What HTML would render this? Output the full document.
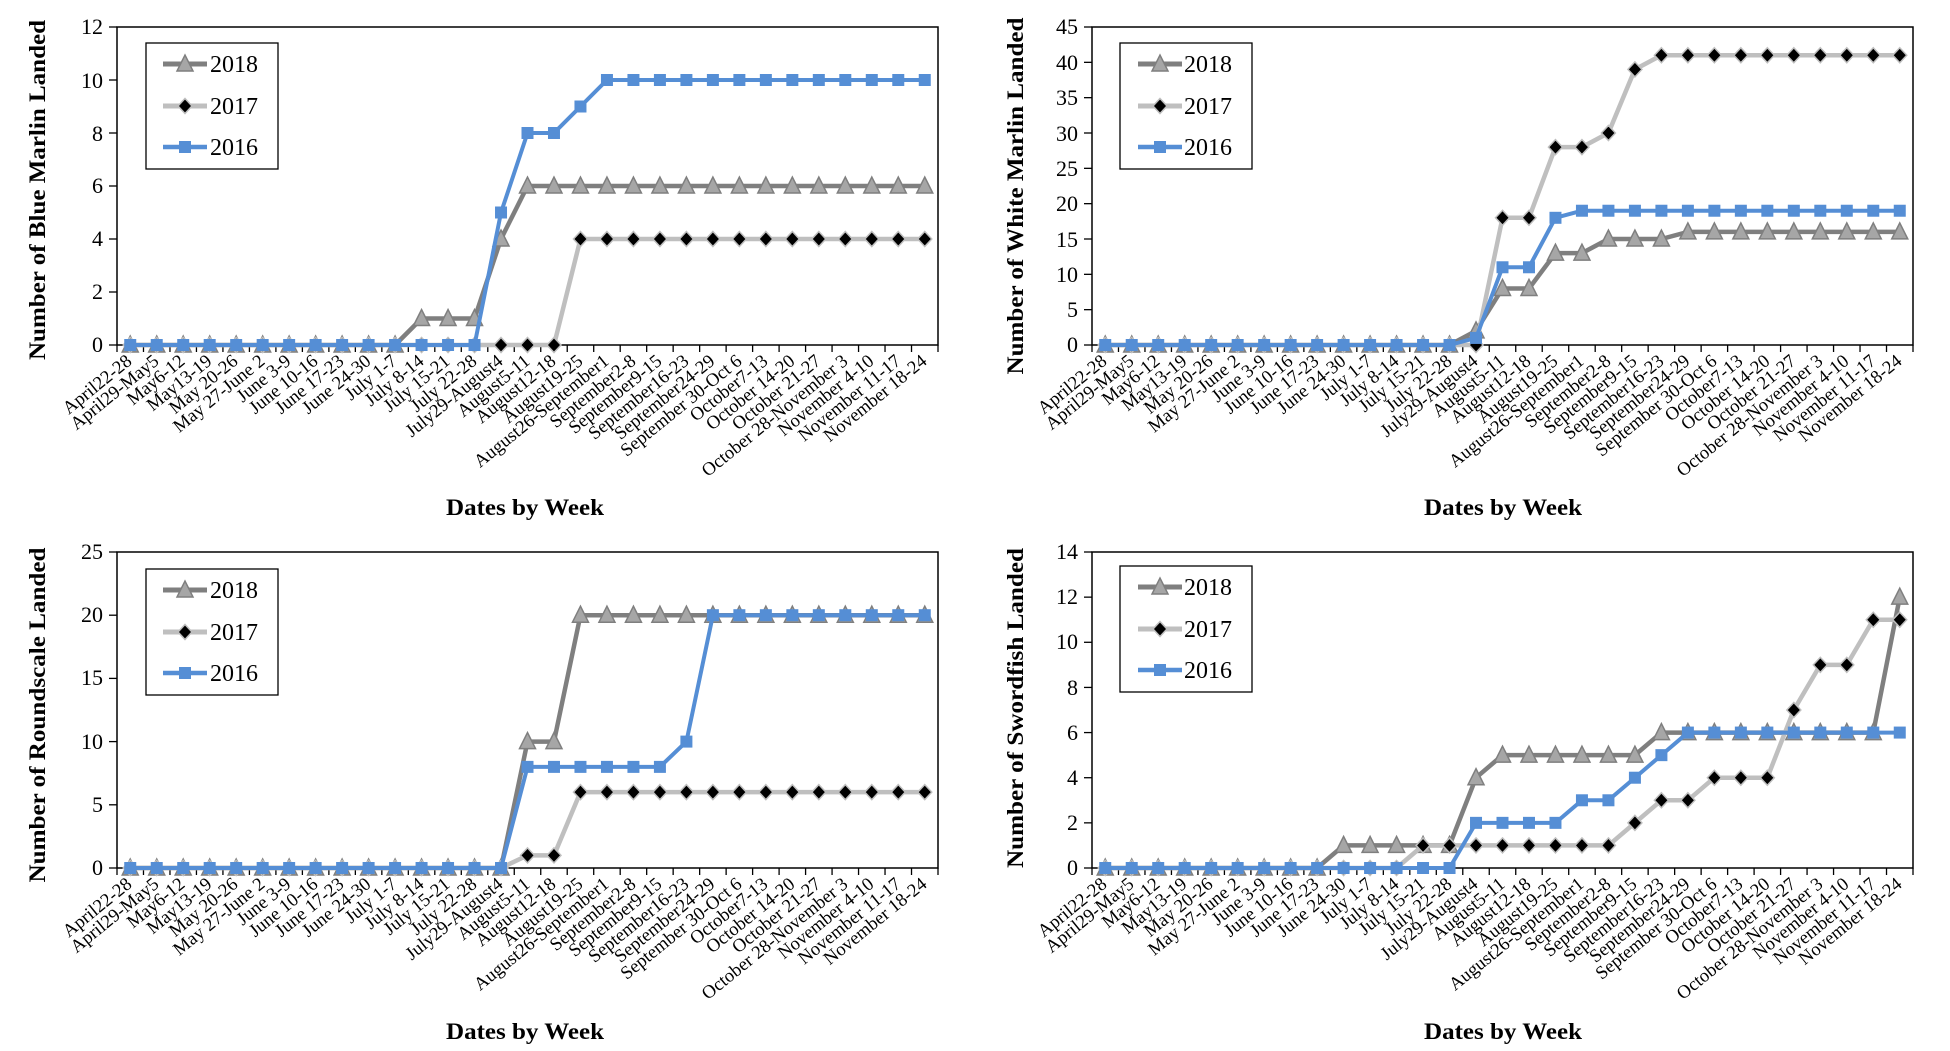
<!DOCTYPE html>
<html><head><meta charset="utf-8"><style>
html,body{margin:0;padding:0;background:#fff;}
svg{display:block;font-family:"Liberation Serif",serif;}
.yt{font-size:22px;text-anchor:end;}
.xl{font-size:18.6px;text-anchor:end;}
.lg{font-size:24px;}
.tt{font-size:23px;font-weight:bold;text-anchor:middle;}
</style></head><body>
<svg id="s" width="1950" height="1051" viewBox="0 0 1950 1051" xmlns="http://www.w3.org/2000/svg">
<g id="plots"></g>
<!-- Chart 1 -->
<g transform="translate(117,345)">
<text class="yt" x="-14" y="7">0</text><text class="yt" x="-14" y="-46">2</text><text class="yt" x="-14" y="-99">4</text><text class="yt" x="-14" y="-152">6</text><text class="yt" x="-14" y="-204">8</text><text class="yt" x="-14" y="-257">10</text><text class="yt" x="-14" y="-311">12</text>
</g>
<text class="tt" transform="translate(45,190) rotate(-90)" textLength="340" lengthAdjust="spacingAndGlyphs">Number of Blue Marlin Landed</text>
<text class="tt" x="525" y="515" textLength="158" lengthAdjust="spacingAndGlyphs">Dates by Week</text>
<!-- Chart 2 -->
<g transform="translate(1092,345)">
<text class="yt" x="-14" y="7">0</text><text class="yt" x="-14" y="-28">5</text><text class="yt" x="-14" y="-63">10</text><text class="yt" x="-14" y="-98">15</text><text class="yt" x="-14" y="-134">20</text><text class="yt" x="-14" y="-169">25</text><text class="yt" x="-14" y="-204">30</text><text class="yt" x="-14" y="-240">35</text><text class="yt" x="-14" y="-275">40</text><text class="yt" x="-14" y="-311">45</text>
</g>
<text class="tt" transform="translate(1023,196) rotate(-90)" textLength="357" lengthAdjust="spacingAndGlyphs">Number of White Marlin Landed</text>
<text class="tt" x="1503" y="515" textLength="158" lengthAdjust="spacingAndGlyphs">Dates by Week</text>
<!-- Chart 3 -->
<g transform="translate(117,868)">
<text class="yt" x="-14" y="7">0</text><text class="yt" x="-14" y="-56">5</text><text class="yt" x="-14" y="-119">10</text><text class="yt" x="-14" y="-183">15</text><text class="yt" x="-14" y="-246">20</text><text class="yt" x="-14" y="-309">25</text>
</g>
<text class="tt" transform="translate(45,715) rotate(-90)" textLength="335" lengthAdjust="spacingAndGlyphs">Number of Roundscale Landed</text>
<text class="tt" x="525" y="1039" textLength="158" lengthAdjust="spacingAndGlyphs">Dates by Week</text>
<!-- Chart 4 -->
<g transform="translate(1092,868)">
<text class="yt" x="-14" y="7">0</text><text class="yt" x="-14" y="-38">2</text><text class="yt" x="-14" y="-83">4</text><text class="yt" x="-14" y="-128">6</text><text class="yt" x="-14" y="-173">8</text><text class="yt" x="-14" y="-219">10</text><text class="yt" x="-14" y="-264">12</text><text class="yt" x="-14" y="-309">14</text>
</g>
<text class="tt" transform="translate(1023,708) rotate(-90)" textLength="320" lengthAdjust="spacingAndGlyphs">Number of Swordfish Landed</text>
<text class="tt" x="1503" y="1039" textLength="158" lengthAdjust="spacingAndGlyphs">Dates by Week</text>

<!-- X labels chart 1 -->
<g transform="translate(117,345)">
<text class="xl" transform="translate(16,18) rotate(-39)">April22-28</text><text class="xl" transform="translate(43,18) rotate(-39)">April29-May5</text><text class="xl" transform="translate(69,18) rotate(-39)">May6-12</text><text class="xl" transform="translate(96,18) rotate(-39)">May13-19</text><text class="xl" transform="translate(122,18) rotate(-39)">May 20-26</text><text class="xl" transform="translate(149,18) rotate(-39)">May 27-June 2</text><text class="xl" transform="translate(175,18) rotate(-39)">June 3-9</text><text class="xl" transform="translate(202,18) rotate(-39)">June 10-16</text><text class="xl" transform="translate(228,18) rotate(-39)">June 17-23</text><text class="xl" transform="translate(255,18) rotate(-39)">June 24-30</text><text class="xl" transform="translate(281,18) rotate(-39)">July 1-7</text><text class="xl" transform="translate(308,18) rotate(-39)">July 8-14</text><text class="xl" transform="translate(334,18) rotate(-39)">July 15-21</text><text class="xl" transform="translate(361,18) rotate(-39)">July 22-28</text><text class="xl" transform="translate(387,18) rotate(-39)">July29-August4</text><text class="xl" transform="translate(414,18) rotate(-39)">August5-11</text><text class="xl" transform="translate(440,18) rotate(-39)">August12-18</text><text class="xl" transform="translate(467,18) rotate(-39)">August19-25</text><text class="xl" transform="translate(493,18) rotate(-39)">August26-September1</text><text class="xl" transform="translate(520,18) rotate(-39)">September2-8</text><text class="xl" transform="translate(546,18) rotate(-39)">September9-15</text><text class="xl" transform="translate(573,18) rotate(-39)">September16-23</text><text class="xl" transform="translate(599,18) rotate(-39)">September24-29</text><text class="xl" transform="translate(626,18) rotate(-39)">September 30-Oct 6</text><text class="xl" transform="translate(652,18) rotate(-39)">October7-13</text><text class="xl" transform="translate(679,18) rotate(-39)">October 14-20</text><text class="xl" transform="translate(705,18) rotate(-39)">October 21-27</text><text class="xl" transform="translate(732,18) rotate(-39)">October 28-November 3</text><text class="xl" transform="translate(758,18) rotate(-39)">November 4-10</text><text class="xl" transform="translate(785,18) rotate(-39)">November 11-17</text><text class="xl" transform="translate(811,18) rotate(-39)">November 18-24</text>
</g>
<!-- X labels chart 2 -->
<g transform="translate(1092,345)">
<text class="xl" transform="translate(16,18) rotate(-39)">April22-28</text><text class="xl" transform="translate(43,18) rotate(-39)">April29-May5</text><text class="xl" transform="translate(69,18) rotate(-39)">May6-12</text><text class="xl" transform="translate(96,18) rotate(-39)">May13-19</text><text class="xl" transform="translate(122,18) rotate(-39)">May 20-26</text><text class="xl" transform="translate(149,18) rotate(-39)">May 27-June 2</text><text class="xl" transform="translate(175,18) rotate(-39)">June 3-9</text><text class="xl" transform="translate(202,18) rotate(-39)">June 10-16</text><text class="xl" transform="translate(228,18) rotate(-39)">June 17-23</text><text class="xl" transform="translate(255,18) rotate(-39)">June 24-30</text><text class="xl" transform="translate(281,18) rotate(-39)">July 1-7</text><text class="xl" transform="translate(308,18) rotate(-39)">July 8-14</text><text class="xl" transform="translate(334,18) rotate(-39)">July 15-21</text><text class="xl" transform="translate(361,18) rotate(-39)">July 22-28</text><text class="xl" transform="translate(387,18) rotate(-39)">July29-August4</text><text class="xl" transform="translate(414,18) rotate(-39)">August5-11</text><text class="xl" transform="translate(440,18) rotate(-39)">August12-18</text><text class="xl" transform="translate(467,18) rotate(-39)">August19-25</text><text class="xl" transform="translate(493,18) rotate(-39)">August26-September1</text><text class="xl" transform="translate(520,18) rotate(-39)">September2-8</text><text class="xl" transform="translate(546,18) rotate(-39)">September9-15</text><text class="xl" transform="translate(573,18) rotate(-39)">September16-23</text><text class="xl" transform="translate(599,18) rotate(-39)">September24-29</text><text class="xl" transform="translate(626,18) rotate(-39)">September 30-Oct 6</text><text class="xl" transform="translate(652,18) rotate(-39)">October7-13</text><text class="xl" transform="translate(679,18) rotate(-39)">October 14-20</text><text class="xl" transform="translate(705,18) rotate(-39)">October 21-27</text><text class="xl" transform="translate(732,18) rotate(-39)">October 28-November 3</text><text class="xl" transform="translate(758,18) rotate(-39)">November 4-10</text><text class="xl" transform="translate(785,18) rotate(-39)">November 11-17</text><text class="xl" transform="translate(811,18) rotate(-39)">November 18-24</text>
</g>
<!-- X labels chart 3 -->
<g transform="translate(117,868)">
<text class="xl" transform="translate(16,18) rotate(-39)">April22-28</text><text class="xl" transform="translate(43,18) rotate(-39)">April29-May5</text><text class="xl" transform="translate(69,18) rotate(-39)">May6-12</text><text class="xl" transform="translate(96,18) rotate(-39)">May13-19</text><text class="xl" transform="translate(122,18) rotate(-39)">May 20-26</text><text class="xl" transform="translate(149,18) rotate(-39)">May 27-June 2</text><text class="xl" transform="translate(175,18) rotate(-39)">June 3-9</text><text class="xl" transform="translate(202,18) rotate(-39)">June 10-16</text><text class="xl" transform="translate(228,18) rotate(-39)">June 17-23</text><text class="xl" transform="translate(255,18) rotate(-39)">June 24-30</text><text class="xl" transform="translate(281,18) rotate(-39)">July 1-7</text><text class="xl" transform="translate(308,18) rotate(-39)">July 8-14</text><text class="xl" transform="translate(334,18) rotate(-39)">July 15-21</text><text class="xl" transform="translate(361,18) rotate(-39)">July 22-28</text><text class="xl" transform="translate(387,18) rotate(-39)">July29-August4</text><text class="xl" transform="translate(414,18) rotate(-39)">August5-11</text><text class="xl" transform="translate(440,18) rotate(-39)">August12-18</text><text class="xl" transform="translate(467,18) rotate(-39)">August19-25</text><text class="xl" transform="translate(493,18) rotate(-39)">August26-September1</text><text class="xl" transform="translate(520,18) rotate(-39)">September2-8</text><text class="xl" transform="translate(546,18) rotate(-39)">September9-15</text><text class="xl" transform="translate(573,18) rotate(-39)">September16-23</text><text class="xl" transform="translate(599,18) rotate(-39)">September24-29</text><text class="xl" transform="translate(626,18) rotate(-39)">September 30-Oct 6</text><text class="xl" transform="translate(652,18) rotate(-39)">October7-13</text><text class="xl" transform="translate(679,18) rotate(-39)">October 14-20</text><text class="xl" transform="translate(705,18) rotate(-39)">October 21-27</text><text class="xl" transform="translate(732,18) rotate(-39)">October 28-November 3</text><text class="xl" transform="translate(758,18) rotate(-39)">November 4-10</text><text class="xl" transform="translate(785,18) rotate(-39)">November 11-17</text><text class="xl" transform="translate(811,18) rotate(-39)">November 18-24</text>
</g>
<!-- X labels chart 4 -->
<g transform="translate(1092,868)">
<text class="xl" transform="translate(16,18) rotate(-39)">April22-28</text><text class="xl" transform="translate(43,18) rotate(-39)">April29-May5</text><text class="xl" transform="translate(69,18) rotate(-39)">May6-12</text><text class="xl" transform="translate(96,18) rotate(-39)">May13-19</text><text class="xl" transform="translate(122,18) rotate(-39)">May 20-26</text><text class="xl" transform="translate(149,18) rotate(-39)">May 27-June 2</text><text class="xl" transform="translate(175,18) rotate(-39)">June 3-9</text><text class="xl" transform="translate(202,18) rotate(-39)">June 10-16</text><text class="xl" transform="translate(228,18) rotate(-39)">June 17-23</text><text class="xl" transform="translate(255,18) rotate(-39)">June 24-30</text><text class="xl" transform="translate(281,18) rotate(-39)">July 1-7</text><text class="xl" transform="translate(308,18) rotate(-39)">July 8-14</text><text class="xl" transform="translate(334,18) rotate(-39)">July 15-21</text><text class="xl" transform="translate(361,18) rotate(-39)">July 22-28</text><text class="xl" transform="translate(387,18) rotate(-39)">July29-August4</text><text class="xl" transform="translate(414,18) rotate(-39)">August5-11</text><text class="xl" transform="translate(440,18) rotate(-39)">August12-18</text><text class="xl" transform="translate(467,18) rotate(-39)">August19-25</text><text class="xl" transform="translate(493,18) rotate(-39)">August26-September1</text><text class="xl" transform="translate(520,18) rotate(-39)">September2-8</text><text class="xl" transform="translate(546,18) rotate(-39)">September9-15</text><text class="xl" transform="translate(573,18) rotate(-39)">September16-23</text><text class="xl" transform="translate(599,18) rotate(-39)">September24-29</text><text class="xl" transform="translate(626,18) rotate(-39)">September 30-Oct 6</text><text class="xl" transform="translate(652,18) rotate(-39)">October7-13</text><text class="xl" transform="translate(679,18) rotate(-39)">October 14-20</text><text class="xl" transform="translate(705,18) rotate(-39)">October 21-27</text><text class="xl" transform="translate(732,18) rotate(-39)">October 28-November 3</text><text class="xl" transform="translate(758,18) rotate(-39)">November 4-10</text><text class="xl" transform="translate(785,18) rotate(-39)">November 11-17</text><text class="xl" transform="translate(811,18) rotate(-39)">November 18-24</text>
</g>

<!-- Legends -->
<g transform="translate(146,43)"><rect x="0" y="0" width="132" height="126" fill="#fff" stroke="#000" stroke-width="1.3"/></g>
<g transform="translate(1120,43)"><rect x="0" y="0" width="132" height="126" fill="#fff" stroke="#000" stroke-width="1.3"/></g>
<g transform="translate(146,569)"><rect x="0" y="0" width="132" height="126" fill="#fff" stroke="#000" stroke-width="1.3"/></g>
<g transform="translate(1120,566)"><rect x="0" y="0" width="132" height="126" fill="#fff" stroke="#000" stroke-width="1.3"/></g>
<g id="legmk"></g>
<text class="lg" x="210" y="72">2018</text><text class="lg" x="210" y="114">2017</text><text class="lg" x="210" y="155">2016</text>
<text class="lg" x="1184" y="72">2018</text><text class="lg" x="1184" y="114">2017</text><text class="lg" x="1184" y="155">2016</text>
<text class="lg" x="210" y="598">2018</text><text class="lg" x="210" y="640">2017</text><text class="lg" x="210" y="681">2016</text>
<text class="lg" x="1184" y="595">2018</text><text class="lg" x="1184" y="637">2017</text><text class="lg" x="1184" y="678">2016</text>
</svg>
<script>
(function(){
var NS="http://www.w3.org/2000/svg";
var P=document.getElementById("plots"),L=document.getElementById("legmk");
function el(p,t,a){var e=document.createElementNS(NS,t);for(var k in a)e.setAttribute(k,a[k]);p.appendChild(e);return e;}
function rep(v,n){var a=[];for(var i=0;i<n;i++)a.push(v);return a;}
function tri(p,x,y){el(p,"polygon",{points:(x-8)+","+(y+7)+" "+(x+8)+","+(y+7)+" "+x+","+(y-9),fill:"#a6a6a6",stroke:"#7f7f7f","stroke-width":1.5});}
function dia(p,x,y){el(p,"polygon",{points:x+","+(y-7.5)+" "+(x+7)+","+y+" "+x+","+(y+7.5)+" "+(x-7)+","+y,fill:"#000",stroke:"#bfbfbf","stroke-width":1.5});}
function sq(p,x,y){el(p,"rect",{x:x-6,y:y-6,width:12,height:12,fill:"#558ed5"});}
var W=821,step=W/31;
var charts=[
 {ox:117,top:27,bot:345,max:12,tk:2,d:[
  rep(0,11).concat([1,1,1,4]).concat(rep(6,16)),
  rep(0,17).concat(rep(4,14)),
  rep(0,14).concat([5,8,8,9]).concat(rep(10,13))]},
 {ox:1092,top:27,bot:345,max:45,tk:5,d:[
  rep(0,14).concat([2,8,8,13,13,15,15,15]).concat(rep(16,9)),
  rep(0,15).concat([18,18,28,28,30,39]).concat(rep(41,10)),
  rep(0,14).concat([1,11,11,18]).concat(rep(19,13))]},
 {ox:117,top:552,bot:868,max:25,tk:5,d:[
  rep(0,15).concat([10,10]).concat(rep(20,14)),
  rep(0,15).concat([1,1]).concat(rep(6,14)),
  rep(0,15).concat([8,8,8,8,8,8,10]).concat(rep(20,9))]},
 {ox:1092,top:552,bot:868,max:14,tk:2,d:[
  rep(0,9).concat([1,1,1,1,1,4,5,5,5,5,5,5,6,6,6,6,6,6,6,6,6,12]),
  rep(0,12).concat([1,1,1,1,1,1,1,1,2,3,3,4,4,4,7,9,9,11,11]),
  rep(0,14).concat([2,2,2,2,3,3,4,5]).concat(rep(6,9))]}
];
var cols=["#7f7f7f","#bfbfbf","#558ed5"],mk=[tri,dia,sq],lw=[4.5,4.5,4];
charts.forEach(function(c){
 var g=el(P,"g",{});
 var H=c.bot-c.top;
 el(g,"rect",{x:c.ox,y:c.top,width:W,height:H,fill:"none",stroke:"#000","stroke-width":1.5});
 for(var v=0;v<=c.max+1e-9;v+=c.tk){var y=c.bot-v/c.max*H;el(g,"line",{x1:c.ox-8,x2:c.ox,y1:y,y2:y,stroke:"#000","stroke-width":1.3});}
 for(var k=0;k<=31;k++){var x=c.ox+k*step;el(g,"line",{x1:x,x2:x,y1:c.bot,y2:c.bot+7,stroke:"#000","stroke-width":1.3});}
 for(var s=0;s<3;s++){
  var pts=c.d[s].map(function(v,i){return [c.ox+(i+0.5)*step,c.bot-v/c.max*H];});
  el(g,"polyline",{points:pts.map(function(p){return p.join(",");}).join(" "),fill:"none",stroke:cols[s],"stroke-width":lw[s],"stroke-linejoin":"round"});
  pts.forEach(function(p){mk[s](g,p[0],p[1]);});
 }
});
var legs=[[117,43],[1092,43],[117,569],[1092,566]];
legs.forEach(function(l){
 var rows=[l[1]+21,l[1]+63,l[1]+104];
 for(var s=0;s<3;s++){
  el(L,"line",{x1:l[0]+46,x2:l[0]+90,y1:rows[s],y2:rows[s],stroke:cols[s],"stroke-width":lw[s]+0.5});
  mk[s](L,l[0]+68,rows[s]);
 }
});
})();
</script>
</body></html>
